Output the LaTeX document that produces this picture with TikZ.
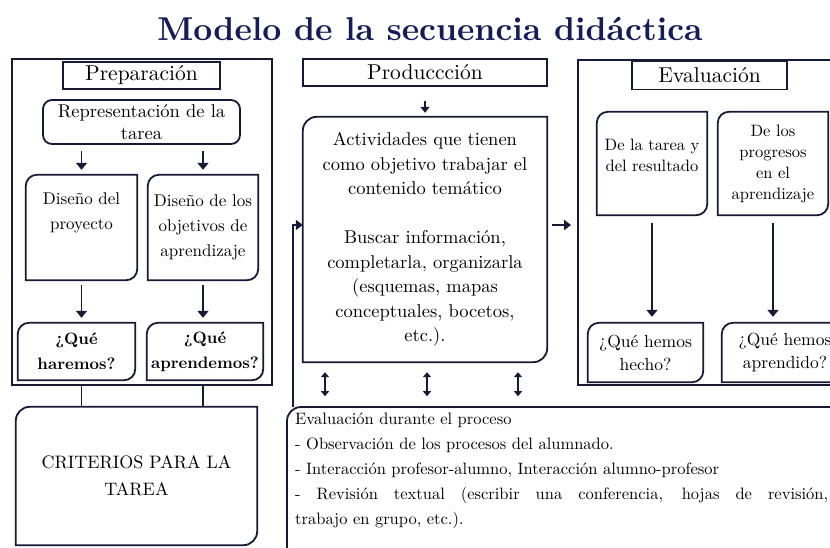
\documentclass[tikz,border=0pt]{standalone}
\usepackage{fontspec}
\setmainfont{lmroman10-regular.otf}[BoldFont=lmroman10-bold.otf, ItalicFont=lmroman10-italic.otf]
\usetikzlibrary{arrows.meta}

\definecolor{ink}{RGB}{22,26,52}
\definecolor{titleblue}{RGB}{22,28,88}

\tikzset{
  frame/.style={draw=ink, line width=1.8pt, inner sep=0pt},
  head/.style={frame, fill=white, font=\fontsize{21.5}{26}\selectfont},
  cell/.style={inner sep=0pt, align=center, font=\fontsize{17}{25}\selectfont},
  link/.style={draw=ink, line width=1.8pt},
  arr/.style={link, -{Triangle[length=7pt,width=11pt]}},
  darr/.style={draw=ink, line width=1.5pt, {Triangle[length=5pt,width=8pt]}-{Triangle[length=5pt,width=8pt]}}
}

% box with round corners top left and bottom right
\newcommand{\leaf}[2][11]{%
  \draw[link] (#2.west) [rounded corners=#1pt] -- (#2.north west) -- (#2.north)
    [sharp corners] -- (#2.north east) -- (#2.east)
    [rounded corners=#1pt] -- (#2.south east) -- (#2.south)
    [sharp corners] -- (#2.south west) -- cycle;}

\begin{document}
\begin{tikzpicture}[x=1pt, y=1pt]
	\useasboundingbox (0,0) rectangle (830,-547);
	\clip (0,0) rectangle (830,-547);
	\node[text=titleblue, font=\fontsize{33}{40}\bfseries\selectfont, anchor=base] (title) at (430,-40) {Modelo de la secuencia didáctica};

	% Preparacion
	\node[frame, minimum width=260, minimum height=326] (prep) at (142,-222) {};
	\node[head, minimum width=157, minimum height=27] (preph) at (141.5,-75.5) {Preparación};
	\node[cell, draw=ink, line width=1.8pt, rounded corners=9pt, minimum width=197, minimum height=44, font=\fontsize{18.5}{22}\selectfont] (rep) at (141.5,-122) {Representación de la\\tarea};
	\node[cell, minimum width=111, minimum height=105] (proy) at (81.5,-227.5) {Diseño del\\proyecto\\\strut};
	\node[cell, minimum width=110, minimum height=105] (obj) at (203,-227.5) {Diseño de los\\objetivos de\\aprendizaje};
	\node[cell, font=\fontsize{16.5}{25}\bfseries\selectfont, minimum width=117, minimum height=57] (hare) at (76.5,-351.5) {¿Qué\\haremos?};
	\node[cell, font=\fontsize{16.5}{25}\bfseries\selectfont, minimum width=116, minimum height=57] (apre) at (205,-351.5) {¿Qué\\aprendemos?};
	\leaf{proy} \leaf{obj} \leaf{hare} \leaf{apre}
	\draw[arr, shorten <=6pt, shorten >=5pt] (rep.south -| proy) -- (proy.north);
	\draw[arr, shorten <=6pt, shorten >=5pt] (rep.south -| obj) -- (obj.north);
	\draw[arr, shorten <=5pt, shorten >=5pt] (proy.south) -- (proy.south |- hare.north);
	\draw[arr, shorten <=5pt, shorten >=5pt] (obj.south) -- (obj.south |- apre.north);

	\node[cell, font=\fontsize{18}{27}\selectfont, minimum width=241, minimum height=138] (crit) at (136.5,-476) {CRITERIOS PARA LA\\TAREA};
	\leaf[14]{crit}
	\draw[link] (prep.south -| proy) -- (crit.north -| proy);
	\draw[link] (prep.south -| obj) -- (crit.north -| obj);

	% Produccion
	\node[head, minimum width=244, minimum height=27] (prodh) at (425,-72.5) {Produccción};
	\node[cell, font=\fontsize{18.5}{24.5}\selectfont, minimum width=244, minimum height=245] (act) at (425,-239.5) {Actividades que tienen\\como objetivo trabajar el\\contenido temático\\[24.5pt]Buscar información,\\completarla, organizarla\\(esquemas, mapas\\conceptuales, bocetos,\\etc.).};
	\leaf[14]{act}
	\draw[link, -{Triangle[length=6pt,width=9pt]}, shorten <=14pt, shorten >=4pt] (prodh.south) -- (act.north);

	% Evaluacion
	\node[frame, minimum width=272, minimum height=325] (evalf) at (714,-222.5) {};
	\node[head, minimum width=155, minimum height=28] (evalh) at (709.5,-75.5) {Evaluación};
	\node[cell, font=\fontsize{16.5}{21}\selectfont, minimum width=110, minimum height=103] (tarea) at (652,-163.5) {De la tarea y\\del resultado\\[-10pt]\strut};
	\node[cell, font=\fontsize{16.5}{21}\selectfont, minimum width=110, minimum height=103] (prog) at (773,-163.5) {De los\\progresos\\en el\\aprendizaje};
	\node[cell, font=\fontsize{17.5}{23}\selectfont, minimum width=115, minimum height=59] (hecho) at (645.5,-352.5) {¿Qué hemos\\hecho?};
	\node[cell, font=\fontsize{17.5}{23}\selectfont, minimum width=126, minimum height=59] (aprend) at (785,-352.5) {¿Qué hemos\\aprendido?};
	\leaf{tarea} \leaf{prog} \leaf{hecho} \leaf{aprend}
	\draw[arr, shorten <=8pt, shorten >=6pt] (tarea.south) -- (tarea.south |- hecho.north);
	\draw[arr, shorten <=8pt, shorten >=6pt] (prog.south) -- (prog.south |- aprend.north);

	% evaluacion durante el proceso
	\node[inner sep=0pt, minimum width=560, minimum height=160, anchor=north west] (proc) at (287,-407) {};
	\leaf[14]{proc}
	\node[inner sep=0pt, anchor=north west, text width=533, align=justify, font=\fontsize{16.5}{25}\selectfont] (proctxt) at (295,-413) {Evaluación durante el proceso\\- Observación de los procesos del alumnado.\\- Interacción profesor-alumno, Interacción alumno-profesor\\- Revisión textual (escribir una conferencia, hojas de revisión,\linebreak trabajo en grupo, etc.).};

	\coordinate (fb) at (293,-225);
	\draw[link, -{Triangle[length=7pt,width=10pt]}, shorten <=5pt, shorten >=6pt] (act.east |- fb) -- (evalf.west |- fb);
	\draw[link, -{Triangle[length=7pt,width=10pt]}] (fb |- proc.north) -- (fb) -- (act.west |- fb);
	\foreach \dx in {-100,2,93}
		\draw[darr, shorten <=10pt, shorten >=11pt] ([xshift=\dx pt]act.south) -- ++(0,-45);
\end{tikzpicture}
\end{document}
